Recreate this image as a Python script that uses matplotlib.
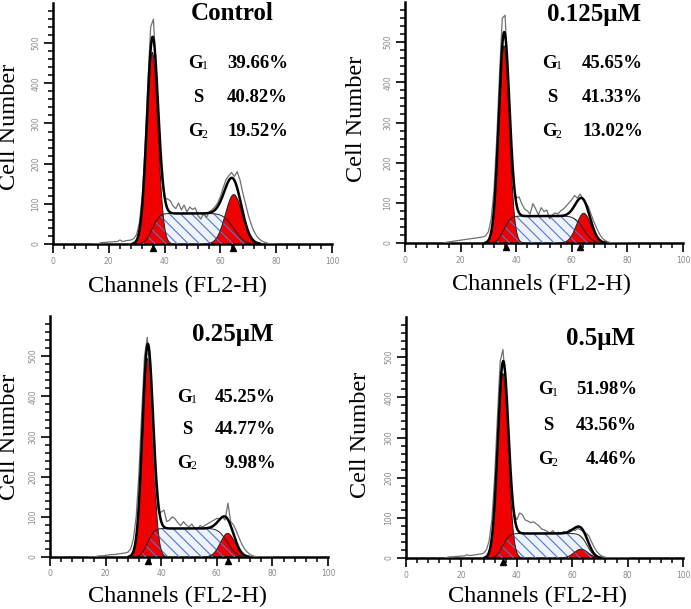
import math
import numpy as np
import matplotlib
matplotlib.use('Agg')
import matplotlib.pyplot as plt
from matplotlib.ticker import FixedLocator

# ---- data ----
titles = ['Control', '0.125μM', '0.25μM', '0.5μM']
g1_pct = ['39.66%', '45.65%', '45.25%', '51.98%']
s_pct = ['40.82%', '41.33%', '44.77%', '43.56%']
g2_pct = ['19.52%', '13.02%', '9.98%', '4.46%']

# fitted model components (ModFit-style): peak height, mean channel, sd
g1_peak = [477, 491, 494, 459]
g1_mean = [35.6, 35.6, 35.1, 35.0]
g1_sd = [2.0, 1.9, 1.9, 1.9]
g2_peak = [123, 74, 59, 22]
g2_mean = [64.8, 64.3, 63.9, 63.2]
g2_sd = [3.0, 2.6, 2.6, 2.5]
s_level = [76, 67, 71, 61]
s_end = [64.8, 64.3, 63.9, 65.5]
s_end_sd = [3.0, 2.6, 2.6, 2.0]

# peak markers under the axis
g1_mark = [35.9, 36.3, 35.1, 34.9]
g2_mark = [64.6, 63.1, 63.9, None]

# raw histogram, channels 14..80
channels = np.arange(14, 81)
raw_control = [0, 0, 0, 3, 4, 4, 5, 5, 6, 6,
               10, 6, 8, 9, 10, 14, 24, 55, 120, 240,
               400, 540, 560, 430, 280, 160, 115, 112, 108, 95,
               88, 102, 85, 97, 80, 92, 86, 90, 70, 62,
               78, 66, 80, 85, 92, 102, 118, 140, 160, 170,
               178, 168, 180, 160, 128, 100, 72, 50, 32, 20,
               12, 7, 4, 2, 0, 0, 0]
raw_0125 = [0, 2, 3, 4, 5, 6, 7, 8, 9, 10,
            11, 12, 13, 14, 15, 18, 28, 60, 130, 260,
            420, 560, 567, 420, 260, 150, 112, 115, 98, 85,
            80, 72, 98, 85, 70, 88, 78, 82, 60, 70,
            75, 72, 80, 85, 92, 100, 108, 118, 112, 122,
            110, 100, 90, 70, 52, 36, 22, 12, 6, 3,
            1, 0, 0, 0, 0, 0, 0]
raw_025 = [0, 0, 0, 2, 3, 3, 4, 5, 6, 6,
           7, 8, 9, 10, 12, 20, 45, 100, 210, 360,
           500, 547, 450, 300, 170, 110, 112, 117, 88, 92,
           100, 95, 85, 78, 88, 80, 75, 82, 72, 70,
           78, 75, 80, 84, 88, 92, 96, 95, 100, 92,
           134, 88, 80, 65, 48, 32, 20, 12, 6, 3,
           1, 0, 0, 0, 0, 0, 0]
raw_05 = [0, 2, 3, 3, 4, 4, 5, 5, 8, 6,
          7, 8, 9, 10, 12, 20, 42, 95, 200, 350,
          490, 519, 430, 280, 160, 110, 95, 112, 108, 95,
          92, 88, 90, 85, 80, 72, 70, 66, 62, 68,
          60, 64, 62, 66, 62, 70, 72, 68, 74, 70,
          66, 62, 55, 40, 26, 15, 8, 4, 2, 0,
          0, 0, 0, 0, 0, 0, 0]
raw_all = [raw_control, raw_0125, raw_025, raw_05]

# ---- layout (pixels in the 691x609 picture) ----
W, H = 691, 609
# x of channel 0, x of channel 100, y of count 0
panel_px = [(53, 332, 244), (405, 683, 243), (50, 328, 557), (406, 683, 558)]
ylab_px = [(10, 127), (356, 119), (10, 437), (361, 435)]
xlab_px = [(178, 286), (542, 284), (177, 596), (538, 596)]
title_px = [(232, 13), (594, 14), (233, 334), (601, 338)]
stat_rows = [(63, 98, 132), (63, 98, 132), (397, 429, 463), (390, 425, 460)]
stat_lab_x = [198, 552, 187, 548]
stat_right_x = [288, 643, 276, 637]

RED = '#f00000'
HATCH = '#5575d0'
SERIF = ['Liberation Serif', 'DejaVu Serif']

plt.rcParams['hatch.linewidth'] = 0.8

erf = np.vectorize(math.erf)


def gauss(x, a, m, s):
    return a * np.exp(-0.5 * ((x - m) / s) ** 2)


def fx(px):
    return px / W


def fy(py):
    return 1 - py / H


fig = plt.figure(figsize=(W / 100, H / 100), dpi=100)
fig.patch.set_facecolor('white')

xs = np.linspace(14, 86, 721)

for i in range(4):
    x0, x100, y0 = panel_px[i]
    ax = fig.add_axes([fx(x0), fy(y0), (x100 - x0) / W, 241 / H])
    ax.set_xlim(0, 100)
    ax.set_ylim(0, 600)
    ax.set_facecolor('none')

    g1 = gauss(xs, g1_peak[i], g1_mean[i], g1_sd[i])
    g2 = gauss(xs, g2_peak[i], g2_mean[i], g2_sd[i])
    sp = s_level[i] * 0.5 * (erf((xs - g1_mean[i]) / (g1_sd[i] * np.sqrt(2)))
                             - erf((xs - s_end[i]) / (s_end_sd[i] * np.sqrt(2))))
    fit = g1 + g2 + sp

    ax.fill_between(xs, 0, sp, where=sp > 0.3, facecolor='#eef3fb', lw=0, zorder=1)
    ax.fill_between(xs, 0, g1, where=g1 > 0.3, facecolor=RED, lw=0, zorder=2)
    ax.fill_between(xs, 0, g2, where=g2 > 0.3, facecolor=RED, lw=0, zorder=2)
    ax.fill_between(xs, 0, sp, where=sp > 0.3, facecolor='none', edgecolor=HATCH,
                    hatch='\\\\\\', lw=0, zorder=3)
    for comp in (g1, g2, sp):
        ax.plot(xs, np.where(comp > 0.3, comp, np.nan), color='#222222', lw=0.7, zorder=4)

    ax.plot(channels, raw_all[i], color='#707070', lw=0.9, zorder=5)
    ax.plot(xs, np.where(fit > 1, fit, np.nan), color='black', lw=1.8, zorder=6)

    marks = [m for m in (g1_mark[i], g2_mark[i]) if m is not None]
    ax.plot(marks, [-10] * len(marks), '^', color='black', ms=5, clip_on=False, zorder=7)

    for side in ('top', 'right'):
        ax.spines[side].set_visible(False)
    for side in ('left', 'bottom'):
        ax.spines[side].set_linewidth(1.8)
    ax.xaxis.set_major_locator(FixedLocator(np.arange(0, 101, 20)))
    ax.xaxis.set_minor_locator(FixedLocator(np.arange(0, 101, 4)))
    ax.yaxis.set_major_locator(FixedLocator(np.arange(0, 501, 100)))
    ax.yaxis.set_minor_locator(FixedLocator(np.arange(0, 600, 20)))
    ax.tick_params(which='major', direction='out', length=6.5, width=1.2,
                   labelsize=5.5, labelcolor='#8a8a8a', pad=2.5)
    ax.tick_params(which='minor', direction='out', length=3.5, width=1.1)
    for lab in ax.get_yticklabels():
        lab.set_rotation(90)
        lab.set_va('center')

    fig.text(fx(ylab_px[i][0]), fy(ylab_px[i][1]), 'Cell Number', rotation=90,
             ha='center', va='center', fontsize=17.5, family=SERIF)
    fig.text(fx(xlab_px[i][0]), fy(xlab_px[i][1]), 'Channels (FL2-H)',
             ha='center', va='center', fontsize=17.5, family=SERIF)
    fig.text(fx(title_px[i][0]), fy(title_px[i][1]), titles[i], ha='center',
             va='center', fontsize=18, fontweight='bold', family=SERIF)

    r1, r2, r3 = stat_rows[i]
    lx = stat_lab_x[i]
    rx = stat_right_x[i]
    for row, name, sub, val in ((r1, 'G', '1', g1_pct[i]), (r2, 'S', '', s_pct[i]),
                                (r3, 'G', '2', g2_pct[i])):
        if sub:
            fig.text(fx(lx - 3), fy(row), name, ha='center', va='center',
                     fontsize=13.5, fontweight='bold', family=SERIF)
            fig.text(fx(lx + 4), fy(row + 3), sub, ha='left', va='center',
                     fontsize=8.5, family=SERIF)
        else:
            fig.text(fx(lx), fy(row), name, ha='center', va='center',
                     fontsize=13.5, fontweight='bold', family=SERIF)
        fig.text(fx(rx), fy(row), val, ha='right', va='center',
                 fontsize=13.5, fontweight='bold', family=SERIF)

fig.savefig('out.png', dpi=100)
